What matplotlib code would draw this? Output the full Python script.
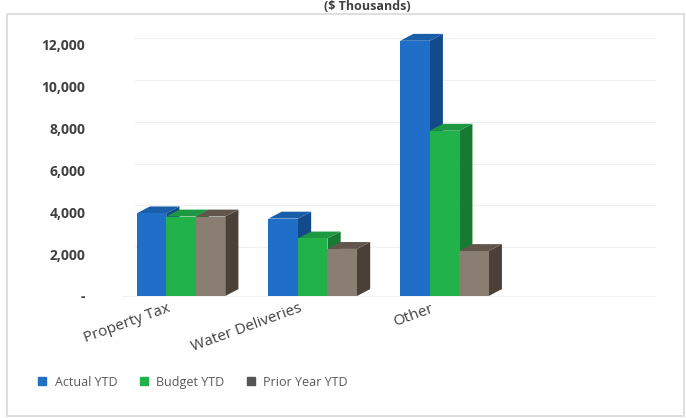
import matplotlib
matplotlib.use("Agg")
import matplotlib.pyplot as plt
from matplotlib.patches import Polygon, Rectangle
from matplotlib.lines import Line2D
from matplotlib.transforms import ScaledTranslation
import numpy as np

categories = ["Property Tax", "Water Deliveries", "Other"]
series_names = ["Actual YTD", "Budget YTD", "Prior Year YTD"]
actual_ytd = [3950, 3700, 12200]
budget_ytd = [3800, 2750, 7900]
prior_year_ytd = [3800, 2250, 2150]
y_ticks = [0, 2000, 4000, 6000, 8000, 10000, 12000]
y_tick_labels = ["-", "2,000", "4,000", "6,000", "8,000", "10,000", "12,000"]
title = "($ Thousands)"

series = [actual_ytd, budget_ytd, prior_year_ytd]
front_cols = ["#1f6fc8", "#22b24c", "#8a7d72"]
top_cols = ["#1a5eaa", "#1c9840", "#62564c"]
side_cols = ["#134a8c", "#177a32", "#4a4037"]
legend_cols = ["#1f6fc5", "#22b14c", "#555555"]

fig = plt.figure(figsize=(6.86, 4.18), dpi=100)
fig.patch.set_facecolor("white")

ax = fig.add_axes([99.3 / 686, (418 - 296) / 418, 444 / 686, 263.6 / 418])
ax.set_xlim(-0.62, 2.75)
ax.set_ylim(0, 12600)

bw = 0.224
dx = 0.10
dy = 330

# faint back-wall gridlines
for t in y_ticks[1:]:
    ax.plot([-0.45 + dx, 3.6], [t + dy, t + dy], color="#f0f0f0", lw=0.8,
            zorder=0, clip_on=False)
ax.plot([-0.45, 3.6], [0, 0], color="#f2f2f2", lw=0.8, zorder=0, clip_on=False)

x = np.arange(len(categories))
z = 1
for i in range(len(categories)):
    for s, vals in enumerate(series):
        x0 = x[i] + (s - 1.5) * bw
        x1 = x0 + bw
        h = vals[i]
        side = Polygon([(x1, 0), (x1 + dx, dy), (x1 + dx, h + dy), (x1, h)],
                       closed=True, fc=side_cols[s], ec="none", zorder=z, clip_on=False)
        top = Polygon([(x0, h), (x0 + dx, h + dy), (x1 + dx, h + dy), (x1, h)],
                      closed=True, fc=top_cols[s], ec="none", zorder=z, clip_on=False)
        ax.add_patch(side)
        ax.add_patch(top)
        ax.bar(x0, h, width=bw, align="edge", color=front_cols[s], zorder=z + 0.5,
               clip_on=False)
        z += 1

ax.set_yticks(y_ticks)
ax.set_yticklabels(y_tick_labels, fontsize=10, fontweight="bold", color="#404040",
                   family=["Open Sans", "DejaVu Sans"])
ax.set_xticks(x)
ax.set_xticklabels([])
lab_off = ScaledTranslation(-14 / 100, -5 / 100, fig.dpi_scale_trans)
for xi, cat in zip(x, categories):
    ax.text(xi, 0, cat, transform=ax.get_xaxis_transform() + lab_off,
            rotation=20, ha="right", va="top", rotation_mode="anchor",
            fontsize=11, color="#404040", family=["Open Sans", "DejaVu Sans"])
ax.tick_params(axis="both", length=0)
ax.tick_params(axis="y", pad=10)
for sp in ax.spines.values():
    sp.set_visible(False)
ax.set_facecolor("none")

handles = [Line2D([], [], marker="s", ls="none", color=c, markersize=6) for c in legend_cols]
fig.legend(handles, series_names, loc="center left", bbox_to_anchor=(0.038, 0.086),
           ncol=3, frameon=False, handlelength=0.8, handletextpad=0.6,
           columnspacing=1.7, labelcolor="#595959",
           prop={"family": "Open Sans", "size": 9})

fig.text(0.535, 0.999, title, ha="center", va="top", fontsize=9, fontweight="bold",
         color="#404040", family=["Open Sans", "DejaVu Sans"])

fig.add_artist(Rectangle((7 / 686, 2 / 418), 677 / 686, 402 / 418, transform=fig.transFigure,
                         fill=False, ec="#d9d9d9", lw=1.2))

fig.savefig("out.png", dpi=100)
